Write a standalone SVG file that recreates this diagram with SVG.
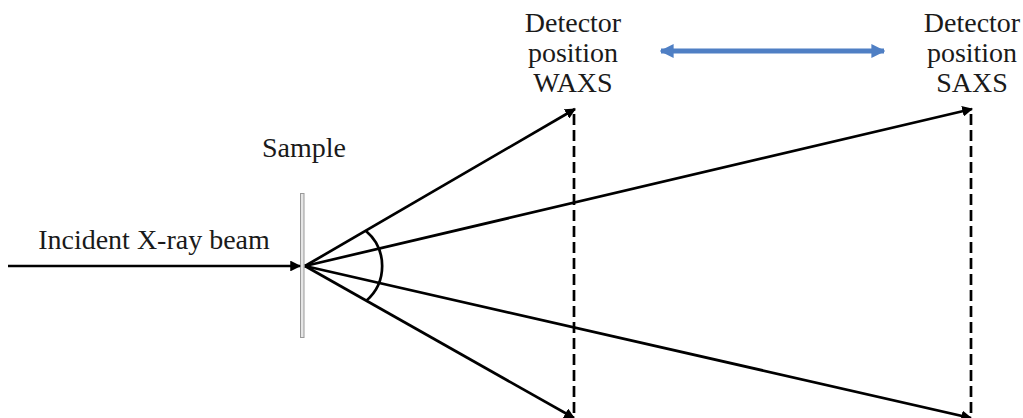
<svg xmlns="http://www.w3.org/2000/svg" width="1023" height="418" viewBox="0 0 1023 418">
<defs>
<style>
.t{font-family:"Liberation Serif","Times New Roman",serif;font-size:28px;fill:#1a1a1a;text-anchor:middle}
.ln{stroke:#000;stroke-width:2.7;fill:none}
.ray{stroke:#000;stroke-width:2.7;fill:none;marker-end:url(#ah)}
.dash{stroke:#000;stroke-width:2.7;stroke-dasharray:11 5;fill:none}
</style>
<marker id="ah" viewBox="0 0 10 10" refX="9" refY="5" markerWidth="4" markerHeight="4" orient="auto" markerUnits="strokeWidth">
<path d="M0,0 L10,5 L0,10 Z" fill="#000"/>
</marker>
<marker id="bh" viewBox="0 0 10 10" refX="9" refY="5" markerWidth="2.8" markerHeight="3" orient="auto-start-reverse" markerUnits="strokeWidth">
<path d="M0,0 L10,5 L0,10 Z" fill="#4f7fc4"/>
</marker>
</defs>
<g id="labels">
<text class="t" x="154" y="249">Incident X-ray beam</text>
<text class="t" x="304" y="157">Sample</text>
<text class="t" x="573" y="32">Detector</text>
<text class="t" x="573" y="62">position</text>
<text class="t" x="573" y="92">WAXS</text>
<text class="t" x="972" y="32">Detector</text>
<text class="t" x="972" y="62">position</text>
<text class="t" x="972" y="92">SAXS</text>
</g>
<g id="sample">
<rect x="300.5" y="193.5" width="3.5" height="144" fill="#e6e6e6" stroke="#999" stroke-width="1"/>
</g>
<g id="detector-waxs">
<line class="dash" x1="574" y1="114" x2="574" y2="418"/>
</g>
<g id="detector-saxs">
<line class="dash" x1="971" y1="114" x2="971" y2="418"/>
</g>
<g id="connectors">
<line class="ray" x1="8" y1="266" x2="300" y2="266"/>
<line class="ray" x1="305" y1="266" x2="575" y2="109"/>
<line class="ray" x1="305" y1="266" x2="972" y2="109"/>
<line class="ray" x1="305" y1="266" x2="574" y2="418"/>
<line class="ray" x1="305" y1="266" x2="971" y2="418"/>
<path class="ln" d="M366,231 A46,46 0 0 1 366,301"/>
<line x1="661" y1="51" x2="884" y2="51" stroke="#4f7fc4" stroke-width="5" marker-start="url(#bh)" marker-end="url(#bh)"/>
</g>
</svg>
